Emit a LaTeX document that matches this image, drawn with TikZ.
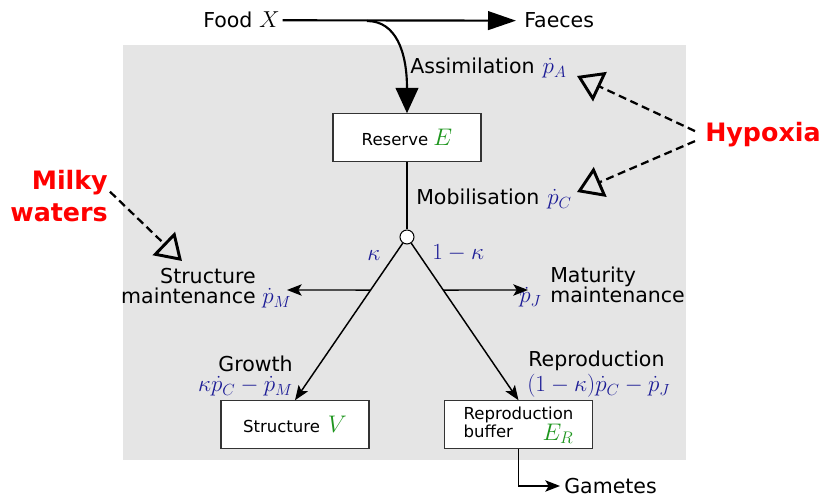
\RequirePackage{fix-cm}
\documentclass[tikz,border=0pt]{standalone}
\usepackage{fontspec}
\setmainfont{DejaVu Sans}
\usetikzlibrary{arrows.meta,calc}
\definecolor{mblue}{RGB}{28,28,150}
\definecolor{mgreen}{RGB}{30,150,30}
\definecolor{bggray}{RGB}{229,229,229}
\newcommand\boxmath[1]{\textcolor{mgreen}{\fontsize{18}{19}\selectfont$#1$}}
\newcommand\fm[1]{{\fontsize{17.3}{19}\selectfont$#1$}}
\newcommand\bfm[1]{\textcolor{mblue}{\fm{#1}}}
\begin{document}
\begin{tikzpicture}[x=0.75pt,y=-0.75pt,
  lbl/.style={inner sep=0pt,font=\fontsize{15.4}{19}\selectfont},
  mlbl/.style={lbl,text=mblue},
  box/.style={draw=black!80,line width=0.9pt,fill=white,minimum width=111pt,minimum height=35.5pt,inner sep=0pt,font=\fontsize{12.4}{14.5}\selectfont},
  flux/.style={line width=1.1pt,-{Stealth[length=11pt,width=8.5pt,inset=2.5pt]}},
  foodline/.style={line width=1.6pt},
  effect/.style={line width=1.7pt,dash pattern=on 6pt off 3.5pt,-{Triangle[open,length=19pt,width=24pt,line width=2.2pt]}},
  warn/.style={inner sep=0pt,text=red,font=\fontsize{19}{22}\selectfont\bfseries}
]
\useasboundingbox (0,0) rectangle (826,498);
\fill[bggray] (123,45) rectangle (686,460);

% food flow
\node[lbl,anchor=base west] (food) at (203,28) {Food \fm{X}};
\node[lbl,anchor=base west] (faeces) at (524,28) {Faeces};
\coordinate (split) at (367,21);
\coordinate (faecestip) at ($(faeces.west)+(-8,0)$);
\draw[foodline,-{Triangle[length=21pt,width=14pt]}] ([xshift=2pt]food.east) -- (faecestip);

% reserve
\node[box] (reserve) at (407,137.5) {Reserve \boxmath{E}};
\draw[foodline,-{Triangle[length=19pt,width=17pt]}] (split) .. controls (396,21) and (407,52) .. (reserve.north);

\node[lbl,anchor=base west] (assim) at (410,74) {Assimilation\hspace{6pt}\bfm{\dot p_A}};
\node[lbl,anchor=base west] (mobil) at (416,205) {Mobilisation\hspace{6pt}\bfm{\dot p_C}};

% branch point
\node[circle,draw,fill=white,inner sep=0pt,minimum size=10.5pt,line width=0.8pt] (branch) at (407,237) {};
\draw[line width=1.1pt] (reserve.south) -- (branch.north);
\node[mlbl,anchor=base west] (kap) at (367,261) {\fm{\kappa}};
\node[mlbl,anchor=base west] (omk) at (432,260) {\fm{1-\kappa}};

% boxes
\node[box] (structure) at (295,424.5) {Structure\hspace{6pt}\boxmath{V}};
\node[box] (repro) at (518.5,424.5) {\begin{tabular}{@{}l@{}}Reproduction\\[-1pt] buffer\hfill\smash{\raisebox{-2.2pt}{\boxmath{E_R}}}\end{tabular}};

\draw[flux] (branch) -- (structure.north);
\draw[flux] (branch) -- (repro.north);

% maintenance
\coordinate (pMtip) at (287,290);
\coordinate (pJtip) at (528,290);
\draw[flux] (intersection of branch--structure.north and 0,290--100,290) -- (pMtip);
\draw[flux] (intersection of branch--repro.north and 0,290--100,290) -- (pJtip);

\node[lbl,anchor=base east] (smaint1) at (256,284) {Structure};
\node[lbl,anchor=base east] (smaint2) at (256,304) {maintenance};
\node[mlbl,anchor=base west] (pM) at (262,304) {\fm{\dot p_M}};
\node[lbl,anchor=base west] (mmaint1) at (550,283) {Maturity};
\node[lbl,anchor=base west] (mmaint2) at (550,303) {maintenance};
\node[mlbl,anchor=base west] (pJ) at (519,303) {\fm{\dot p_J}};

% growth / reproduction labels
\node[lbl,anchor=base east] (growth) at (293,372) {Growth};
\node[mlbl,anchor=base east] (gflux) at (293,392) {\fm{\kappa\dot p_C-\dot p_M}};
\node[lbl,anchor=base west] (reprol) at (528,367) {Reproduction};
\node[mlbl,anchor=base west] (rflux) at (527,392) {\fm{(1-\kappa)\dot p_C-\dot p_J}};

% gametes
\node[lbl,anchor=west] (gametes) at (564,486) {Gametes};
\draw[line width=1.1pt,-{Stealth[length=11pt,width=8.5pt,inset=2.5pt]}] (repro.south) |- ($(gametes.west)+(-4,0)$);

% effects
\node[warn,anchor=base west] (hypoxia) at (705,142) {Hypoxia};
\coordinate (tipA) at (577,76);
\coordinate (tipC) at (577,192);
\draw[effect] ($(hypoxia.west)+(-10,-4)$) -- (tipA);
\draw[effect] ($(hypoxia.west)+(-10,6)$) -- (tipC);

\node[warn,anchor=base east] (milky1) at (108,190) {Milky};
\node[warn,anchor=base east] (milky2) at (108,222) {waters};
\coordinate (tipS) at (182,261);
\draw[effect] ($(milky1.south east)+(2,-4)$) -- (tipS);
\end{tikzpicture}
\end{document}
